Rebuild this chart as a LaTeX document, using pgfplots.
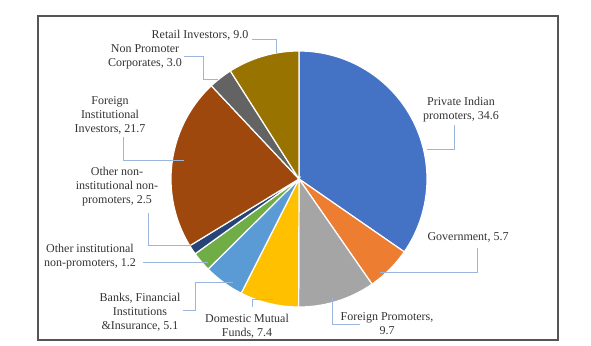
\documentclass[border=0pt]{standalone}
\usepackage{pgfplots}
\pgfplotsset{compat=1.18}
\usepackage{fontspec}
\setmainfont{Liberation Serif}
\definecolor{cPriv}{HTML}{4472C4}
\definecolor{cGov}{HTML}{ED7D31}
\definecolor{cFP}{HTML}{A5A5A5}
\definecolor{cDMF}{HTML}{FFC000}
\definecolor{cBank}{HTML}{5B9BD5}
\definecolor{cONI}{HTML}{70AD47}
\definecolor{cOI}{HTML}{264478}
\definecolor{cFII}{HTML}{9E480E}
\definecolor{cNPC}{HTML}{636363}
\definecolor{cRet}{HTML}{997300}
\definecolor{leader}{RGB}{155,182,222}
\definecolor{txt}{HTML}{333333}
\def\cx{299}\def\cy{166}\def\rr{128}\def\total{99.9}
\def\cum{0}
\newcommand\slice[2]{%
  \pgfmathsetmacro\sa{\cum}\pgfmathsetmacro\sb{\cum+#1}%
  \edef\doit{\noexpand\addplot[fill=#2, draw=white, line width=1.2pt, domain=\sa:\sb, samples=60, variable=\noexpand\t]
   ({\cx+\rr*sin(360/\total*\noexpand\t)},{\cy+\rr*cos(360/\total*\noexpand\t)}) -- (axis cs:\cx,\cy) -- cycle;}%
  \doit
  \xdef\cum{\sb}}
\begin{document}
\begin{tikzpicture}
\begin{axis}[width=591pt, height=345pt, scale only axis, xmin=0, xmax=591, ymin=0, ymax=345,
  hide axis, clip=false]
\path (axis cs:0,0) rectangle (axis cs:591,345);
\draw[line width=1.6pt, draw={rgb,255:red,85;green,85;blue,85}] (axis cs:38,5) rectangle (axis cs:558,329);
% data (percent)
\slice{34.6}{cPriv}
\slice{5.7}{cGov}
\slice{9.7}{cFP}
\slice{7.4}{cDMF}
\slice{5.1}{cBank}
\slice{2.5}{cONI}
\slice{1.2}{cOI}
\slice{21.7}{cFII}
\slice{3.0}{cNPC}
\slice{9.0}{cRet}
% leader lines
\begin{scope}[leader, line width=0.8pt]
\draw (axis cs:252,306) -- (axis cs:276,306) -- (axis cs:276,292);
\draw (axis cs:184,289) -- (axis cs:203,289) -- (axis cs:203,266) -- (axis cs:218,266);
\draw (axis cs:123,208) -- (axis cs:123,185) -- (axis cs:184,185);
\draw (axis cs:148,132) -- (axis cs:148,100) -- (axis cs:192,100);
\draw (axis cs:143,83) -- (axis cs:208,83);
\draw (axis cs:183,35) -- (axis cs:195,35) -- (axis cs:195,63) -- (axis cs:233,63);
\draw (axis cs:252,38) -- (axis cs:252,46) -- (axis cs:273,46);
\draw (axis cs:454,220) -- (axis cs:454,196) -- (axis cs:427,196);
\draw (axis cs:477,97) -- (axis cs:477,73) -- (axis cs:380,73);
\draw (axis cs:332,47) -- (axis cs:332,21) -- (axis cs:360,21);
\end{scope}
% labels
\begin{scope}[every node/.style={text=txt, align=center, inner sep=0pt, font=\fontsize{12}{14}\selectfont}]
\node at (axis cs:200,310) {Retail Investors, 9.0};
\node at (axis cs:145,288.5) {Non Promoter\\Corporates, 3.0};
\node at (axis cs:110,230) {Foreign\\Institutional\\Investors, 21.7};
\node at (axis cs:117,158.5) {Other non-\\institutional non-\\promoters, 2.5};
\node at (axis cs:90,88) {Other institutional\\non-promoters, 1.2};
\node at (axis cs:140,32.7) {Banks, Financial\\Institutions\\\&Insurance, 5.1};
\node at (axis cs:247,19) {Domestic Mutual\\Funds, 7.4};
\node at (axis cs:461,235.5) {Private Indian\\promoters, 34.6};
\node at (axis cs:468,108) {Government, 5.7};
\node at (axis cs:387,21) {Foreign Promoters,\\9.7};
\end{scope}
\end{axis}
\end{tikzpicture}
\end{document}
